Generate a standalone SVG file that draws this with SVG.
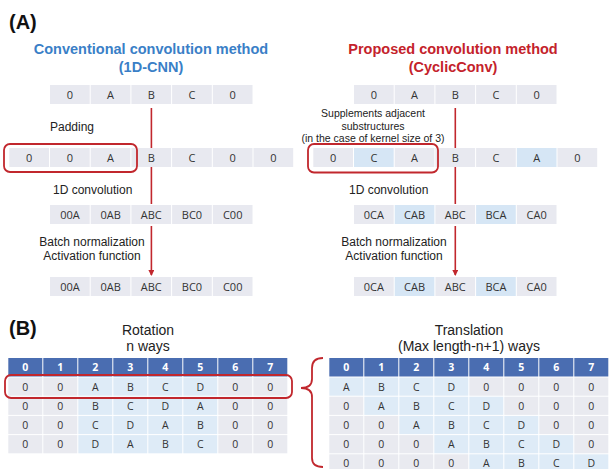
<svg xmlns="http://www.w3.org/2000/svg" width="609" height="469" viewBox="0 0 609 469">
<defs>
<style>
.lbl{font-family:"Liberation Sans",Arial,sans-serif;font-size:12px;fill:#222;}
.sm{font-family:"Liberation Sans",Arial,sans-serif;font-size:10.5px;fill:#222;}
.ttl{font-family:"Liberation Sans",Arial,sans-serif;font-size:14.5px;font-weight:bold;}
.pan{font-family:"Liberation Sans",Arial,sans-serif;font-size:20px;font-weight:bold;fill:#111;}
.hd{font-family:"Liberation Sans",Arial,sans-serif;font-size:14px;fill:#222;}
.c{fill:#e8e9f0;}
.b{fill:#d6e6f5;}
.tc{fill:#e9eaf0;}
.tb{fill:#deebf7;}
.th{fill:#4a6db1;}
.ct{font-family:"Open Sans","Noto Sans",sans-serif;font-size:11px;fill:#333;text-anchor:middle;}
.tt{font-family:"Open Sans","Noto Sans",sans-serif;font-size:10.5px;fill:#333;text-anchor:middle;}
.ht{font-family:"Open Sans","Noto Sans",sans-serif;font-size:10.5px;font-weight:bold;fill:#fff;text-anchor:middle;}
.red{fill:none;stroke:#c1272d;stroke-width:1.8;}
.ln{stroke:#c1272d;stroke-width:1.6;fill:none;}
</style>
<marker id="ah" markerWidth="6" markerHeight="6" refX="5" refY="3" orient="auto" markerUnits="userSpaceOnUse">
<path d="M0,0 L6,3 L0,6 Z" fill="#c1272d"/>
</marker>
</defs>
<rect width="609" height="469" fill="#fff"/>

<text class="pan" x="9" y="29">(A)</text>
<text class="pan" x="9" y="335">(B)</text>

<g id="title-left">
<text class="ttl" x="151" y="54" text-anchor="middle" fill="#3a7fc7">Conventional convolution method</text>
<text class="ttl" x="151" y="72" text-anchor="middle" fill="#3a7fc7">(1D-CNN)</text>
</g>
<g id="title-right">
<text class="ttl" x="453" y="54" text-anchor="middle" fill="#c4222b">Proposed convolution method</text>
<text class="ttl" x="453" y="72" text-anchor="middle" fill="#c4222b">(CyclicConv)</text>
</g>

<g id="connectors">
<line class="ln" x1="151.4" y1="108" x2="151.4" y2="148"/>
<line class="ln" x1="151.4" y1="167" x2="151.4" y2="204"/>
<line class="ln" x1="151.4" y1="226" x2="151.4" y2="275" marker-end="url(#ah)"/>
<line class="ln" x1="455.3" y1="108" x2="455.3" y2="148"/>
<line class="ln" x1="455.3" y1="167" x2="455.3" y2="204"/>
<line class="ln" x1="455.3" y1="226" x2="455.3" y2="275" marker-end="url(#ah)"/>
<path class="red" d="M323,358 Q312,358 312,368 L312,379 Q312,388 301,388 Q312,388 312,397 L312,458 Q312,467 323,467"/>
</g>

<!-- Left side -->
<g id="left-input">
<rect class="c" x="50" y="85" width="39.7" height="19"/>
<rect class="c" x="90.7" y="85" width="39.7" height="19"/>
<rect class="c" x="131.4" y="85" width="39.7" height="19"/>
<rect class="c" x="172.1" y="85" width="39.7" height="19"/>
<rect class="c" x="212.8" y="85" width="39.7" height="19"/>
<text class="ct" x="69.9" y="98.5">0</text>
<text class="ct" x="110.6" y="98.5">A</text>
<text class="ct" x="151.3" y="98.5">B</text>
<text class="ct" x="192" y="98.5">C</text>
<text class="ct" x="232.7" y="98.5">0</text>
</g>
<text class="lbl" x="50" y="131">Padding</text>
<g id="left-padded">
<rect class="c" x="9.3" y="148" width="39.7" height="19"/>
<rect class="c" x="50" y="148" width="39.7" height="19"/>
<rect class="c" x="90.7" y="148" width="39.7" height="19"/>
<rect class="c" x="131.4" y="148" width="39.7" height="19"/>
<rect class="c" x="172.1" y="148" width="39.7" height="19"/>
<rect class="c" x="212.8" y="148" width="39.7" height="19"/>
<rect class="c" x="253.5" y="148" width="39.7" height="19"/>
<text class="ct" x="29.2" y="161.5">0</text>
<text class="ct" x="69.9" y="161.5">0</text>
<text class="ct" x="110.6" y="161.5">A</text>
<text class="ct" x="151.3" y="161.5">B</text>
<text class="ct" x="192" y="161.5">C</text>
<text class="ct" x="232.7" y="161.5">0</text>
<text class="ct" x="273.4" y="161.5">0</text>
<rect class="red" x="4" y="144" width="133" height="28" rx="6"/>
</g>
<text class="lbl" x="53" y="194">1D convolution</text>
<g id="left-conv">
<rect class="c" x="50" y="205" width="39.7" height="19"/>
<rect class="c" x="90.7" y="205" width="39.7" height="19"/>
<rect class="c" x="131.4" y="205" width="39.7" height="19"/>
<rect class="c" x="172.1" y="205" width="39.7" height="19"/>
<rect class="c" x="212.8" y="205" width="39.7" height="19"/>
<text class="ct" x="69.9" y="218.5">00A</text>
<text class="ct" x="110.6" y="218.5">0AB</text>
<text class="ct" x="151.3" y="218.5">ABC</text>
<text class="ct" x="192" y="218.5">BC0</text>
<text class="ct" x="232.7" y="218.5">C00</text>
</g>
<text class="lbl" x="92" y="246" text-anchor="middle">Batch normalization</text>
<text class="lbl" x="92" y="260" text-anchor="middle">Activation function</text>
<g id="left-output">
<rect class="c" x="50" y="277" width="39.7" height="19"/>
<rect class="c" x="90.7" y="277" width="39.7" height="19"/>
<rect class="c" x="131.4" y="277" width="39.7" height="19"/>
<rect class="c" x="172.1" y="277" width="39.7" height="19"/>
<rect class="c" x="212.8" y="277" width="39.7" height="19"/>
<text class="ct" x="69.9" y="290.5">00A</text>
<text class="ct" x="110.6" y="290.5">0AB</text>
<text class="ct" x="151.3" y="290.5">ABC</text>
<text class="ct" x="192" y="290.5">BC0</text>
<text class="ct" x="232.7" y="290.5">C00</text>
</g>

<!-- Right side -->
<g id="right-input">
<rect class="c" x="354" y="85" width="39.7" height="19"/>
<rect class="c" x="394.7" y="85" width="39.7" height="19"/>
<rect class="c" x="435.4" y="85" width="39.7" height="19"/>
<rect class="c" x="476.1" y="85" width="39.7" height="19"/>
<rect class="c" x="516.8" y="85" width="39.7" height="19"/>
<text class="ct" x="373.9" y="98.5">0</text>
<text class="ct" x="414.6" y="98.5">A</text>
<text class="ct" x="455.3" y="98.5">B</text>
<text class="ct" x="496" y="98.5">C</text>
<text class="ct" x="536.7" y="98.5">0</text>
</g>
<text class="sm" x="373" y="117" text-anchor="middle">Supplements adjacent</text>
<text class="sm" x="373" y="130" text-anchor="middle">substructures</text>
<text class="sm" x="373" y="142" text-anchor="middle">(in the case of kernel size of 3)</text>
<g id="right-padded">
<rect class="c" x="313.3" y="148" width="39.7" height="19"/>
<rect class="b" x="354" y="148" width="39.7" height="19"/>
<rect class="c" x="394.7" y="148" width="39.7" height="19"/>
<rect class="c" x="435.4" y="148" width="39.7" height="19"/>
<rect class="c" x="476.1" y="148" width="39.7" height="19"/>
<rect class="b" x="516.8" y="148" width="39.7" height="19"/>
<rect class="c" x="557.5" y="148" width="39.7" height="19"/>
<text class="ct" x="333.2" y="161.5">0</text>
<text class="ct" x="373.9" y="161.5">C</text>
<text class="ct" x="414.6" y="161.5">A</text>
<text class="ct" x="455.3" y="161.5">B</text>
<text class="ct" x="496" y="161.5">C</text>
<text class="ct" x="536.7" y="161.5">A</text>
<text class="ct" x="577.4" y="161.5">0</text>
<rect class="red" x="308" y="144" width="130" height="28.5" rx="6"/>
</g>
<text class="lbl" x="349" y="194">1D convolution</text>
<g id="right-conv">
<rect class="c" x="354" y="205" width="39.7" height="19"/>
<rect class="b" x="394.7" y="205" width="39.7" height="19"/>
<rect class="c" x="435.4" y="205" width="39.7" height="19"/>
<rect class="b" x="476.1" y="205" width="39.7" height="19"/>
<rect class="c" x="516.8" y="205" width="39.7" height="19"/>
<text class="ct" x="373.9" y="218.5">0CA</text>
<text class="ct" x="414.6" y="218.5">CAB</text>
<text class="ct" x="455.3" y="218.5">ABC</text>
<text class="ct" x="496" y="218.5">BCA</text>
<text class="ct" x="536.7" y="218.5">CA0</text>
</g>
<text class="lbl" x="394" y="246" text-anchor="middle">Batch normalization</text>
<text class="lbl" x="394" y="260" text-anchor="middle">Activation function</text>
<g id="right-output">
<rect class="c" x="354" y="277" width="39.7" height="19"/>
<rect class="b" x="394.7" y="277" width="39.7" height="19"/>
<rect class="c" x="435.4" y="277" width="39.7" height="19"/>
<rect class="b" x="476.1" y="277" width="39.7" height="19"/>
<rect class="c" x="516.8" y="277" width="39.7" height="19"/>
<text class="ct" x="373.9" y="290.5">0CA</text>
<text class="ct" x="414.6" y="290.5">CAB</text>
<text class="ct" x="455.3" y="290.5">ABC</text>
<text class="ct" x="496" y="290.5">BCA</text>
<text class="ct" x="536.7" y="290.5">CA0</text>
</g>

<!-- Part B -->
<text class="hd" x="148" y="335" text-anchor="middle">Rotation</text>
<text class="hd" x="148" y="351" text-anchor="middle">n ways</text>
<text class="hd" x="469" y="335" text-anchor="middle">Translation</text>
<text class="hd" x="469" y="351" text-anchor="middle">(Max length-n+1) ways</text>

<g id="rotation-table">
<g>
<rect class="th" x="8.3" y="358" width="34" height="18.5"/>
<rect class="th" x="43.3" y="358" width="34" height="18.5"/>
<rect class="th" x="78.3" y="358" width="34" height="18.5"/>
<rect class="th" x="113.3" y="358" width="34" height="18.5"/>
<rect class="th" x="148.3" y="358" width="34" height="18.5"/>
<rect class="th" x="183.3" y="358" width="34" height="18.5"/>
<rect class="th" x="218.3" y="358" width="34" height="18.5"/>
<rect class="th" x="253.3" y="358" width="34" height="18.5"/>
<text class="ht" x="25.3" y="371">0</text>
<text class="ht" x="60.3" y="371">1</text>
<text class="ht" x="95.3" y="371">2</text>
<text class="ht" x="130.3" y="371">3</text>
<text class="ht" x="165.3" y="371">4</text>
<text class="ht" x="200.3" y="371">5</text>
<text class="ht" x="235.3" y="371">6</text>
<text class="ht" x="270.3" y="371">7</text>
</g>
<g>
<rect class="tc" x="8.3" y="377.5" width="34" height="18.2"/>
<rect class="tc" x="43.3" y="377.5" width="34" height="18.2"/>
<rect class="tb" x="78.3" y="377.5" width="34" height="18.2"/>
<rect class="tb" x="113.3" y="377.5" width="34" height="18.2"/>
<rect class="tb" x="148.3" y="377.5" width="34" height="18.2"/>
<rect class="tb" x="183.3" y="377.5" width="34" height="18.2"/>
<rect class="tc" x="218.3" y="377.5" width="34" height="18.2"/>
<rect class="tc" x="253.3" y="377.5" width="34" height="18.2"/>
<text class="tt" x="25.3" y="390.5">0</text>
<text class="tt" x="60.3" y="390.5">0</text>
<text class="tt" x="95.3" y="390.5">A</text>
<text class="tt" x="130.3" y="390.5">B</text>
<text class="tt" x="165.3" y="390.5">C</text>
<text class="tt" x="200.3" y="390.5">D</text>
<text class="tt" x="235.3" y="390.5">0</text>
<text class="tt" x="270.3" y="390.5">0</text>
</g>
<g>
<rect class="tc" x="8.3" y="396.7" width="34" height="18.2"/>
<rect class="tc" x="43.3" y="396.7" width="34" height="18.2"/>
<rect class="tb" x="78.3" y="396.7" width="34" height="18.2"/>
<rect class="tb" x="113.3" y="396.7" width="34" height="18.2"/>
<rect class="tb" x="148.3" y="396.7" width="34" height="18.2"/>
<rect class="tb" x="183.3" y="396.7" width="34" height="18.2"/>
<rect class="tc" x="218.3" y="396.7" width="34" height="18.2"/>
<rect class="tc" x="253.3" y="396.7" width="34" height="18.2"/>
<text class="tt" x="25.3" y="409.7">0</text>
<text class="tt" x="60.3" y="409.7">0</text>
<text class="tt" x="95.3" y="409.7">B</text>
<text class="tt" x="130.3" y="409.7">C</text>
<text class="tt" x="165.3" y="409.7">D</text>
<text class="tt" x="200.3" y="409.7">A</text>
<text class="tt" x="235.3" y="409.7">0</text>
<text class="tt" x="270.3" y="409.7">0</text>
</g>
<g>
<rect class="tc" x="8.3" y="415.9" width="34" height="18.2"/>
<rect class="tc" x="43.3" y="415.9" width="34" height="18.2"/>
<rect class="tb" x="78.3" y="415.9" width="34" height="18.2"/>
<rect class="tb" x="113.3" y="415.9" width="34" height="18.2"/>
<rect class="tb" x="148.3" y="415.9" width="34" height="18.2"/>
<rect class="tb" x="183.3" y="415.9" width="34" height="18.2"/>
<rect class="tc" x="218.3" y="415.9" width="34" height="18.2"/>
<rect class="tc" x="253.3" y="415.9" width="34" height="18.2"/>
<text class="tt" x="25.3" y="428.9">0</text>
<text class="tt" x="60.3" y="428.9">0</text>
<text class="tt" x="95.3" y="428.9">C</text>
<text class="tt" x="130.3" y="428.9">D</text>
<text class="tt" x="165.3" y="428.9">A</text>
<text class="tt" x="200.3" y="428.9">B</text>
<text class="tt" x="235.3" y="428.9">0</text>
<text class="tt" x="270.3" y="428.9">0</text>
</g>
<g>
<rect class="tc" x="8.3" y="435.1" width="34" height="18.2"/>
<rect class="tc" x="43.3" y="435.1" width="34" height="18.2"/>
<rect class="tb" x="78.3" y="435.1" width="34" height="18.2"/>
<rect class="tb" x="113.3" y="435.1" width="34" height="18.2"/>
<rect class="tb" x="148.3" y="435.1" width="34" height="18.2"/>
<rect class="tb" x="183.3" y="435.1" width="34" height="18.2"/>
<rect class="tc" x="218.3" y="435.1" width="34" height="18.2"/>
<rect class="tc" x="253.3" y="435.1" width="34" height="18.2"/>
<text class="tt" x="25.3" y="448.1">0</text>
<text class="tt" x="60.3" y="448.1">0</text>
<text class="tt" x="95.3" y="448.1">D</text>
<text class="tt" x="130.3" y="448.1">A</text>
<text class="tt" x="165.3" y="448.1">B</text>
<text class="tt" x="200.3" y="448.1">C</text>
<text class="tt" x="235.3" y="448.1">0</text>
<text class="tt" x="270.3" y="448.1">0</text>
</g>
<rect class="red" x="5" y="375" width="287" height="23" rx="6"/>
</g>

<g id="translation-table">
<g>
<rect class="th" x="329.3" y="358" width="34" height="18.5"/>
<rect class="th" x="364.3" y="358" width="34" height="18.5"/>
<rect class="th" x="399.3" y="358" width="34" height="18.5"/>
<rect class="th" x="434.3" y="358" width="34" height="18.5"/>
<rect class="th" x="469.3" y="358" width="34" height="18.5"/>
<rect class="th" x="504.3" y="358" width="34" height="18.5"/>
<rect class="th" x="539.3" y="358" width="34" height="18.5"/>
<rect class="th" x="574.3" y="358" width="34" height="18.5"/>
<text class="ht" x="346.3" y="371">0</text>
<text class="ht" x="381.3" y="371">1</text>
<text class="ht" x="416.3" y="371">2</text>
<text class="ht" x="451.3" y="371">3</text>
<text class="ht" x="486.3" y="371">4</text>
<text class="ht" x="521.3" y="371">5</text>
<text class="ht" x="556.3" y="371">6</text>
<text class="ht" x="591.3" y="371">7</text>
</g>
<g>
<rect class="tb" x="329.3" y="377.5" width="34" height="18.2"/>
<rect class="tb" x="364.3" y="377.5" width="34" height="18.2"/>
<rect class="tb" x="399.3" y="377.5" width="34" height="18.2"/>
<rect class="tb" x="434.3" y="377.5" width="34" height="18.2"/>
<rect class="tc" x="469.3" y="377.5" width="34" height="18.2"/>
<rect class="tc" x="504.3" y="377.5" width="34" height="18.2"/>
<rect class="tc" x="539.3" y="377.5" width="34" height="18.2"/>
<rect class="tc" x="574.3" y="377.5" width="34" height="18.2"/>
<text class="tt" x="346.3" y="390.5">A</text>
<text class="tt" x="381.3" y="390.5">B</text>
<text class="tt" x="416.3" y="390.5">C</text>
<text class="tt" x="451.3" y="390.5">D</text>
<text class="tt" x="486.3" y="390.5">0</text>
<text class="tt" x="521.3" y="390.5">0</text>
<text class="tt" x="556.3" y="390.5">0</text>
<text class="tt" x="591.3" y="390.5">0</text>
</g>
<g>
<rect class="tc" x="329.3" y="396.7" width="34" height="18.2"/>
<rect class="tb" x="364.3" y="396.7" width="34" height="18.2"/>
<rect class="tb" x="399.3" y="396.7" width="34" height="18.2"/>
<rect class="tb" x="434.3" y="396.7" width="34" height="18.2"/>
<rect class="tb" x="469.3" y="396.7" width="34" height="18.2"/>
<rect class="tc" x="504.3" y="396.7" width="34" height="18.2"/>
<rect class="tc" x="539.3" y="396.7" width="34" height="18.2"/>
<rect class="tc" x="574.3" y="396.7" width="34" height="18.2"/>
<text class="tt" x="346.3" y="409.7">0</text>
<text class="tt" x="381.3" y="409.7">A</text>
<text class="tt" x="416.3" y="409.7">B</text>
<text class="tt" x="451.3" y="409.7">C</text>
<text class="tt" x="486.3" y="409.7">D</text>
<text class="tt" x="521.3" y="409.7">0</text>
<text class="tt" x="556.3" y="409.7">0</text>
<text class="tt" x="591.3" y="409.7">0</text>
</g>
<g>
<rect class="tc" x="329.3" y="415.9" width="34" height="18.2"/>
<rect class="tc" x="364.3" y="415.9" width="34" height="18.2"/>
<rect class="tb" x="399.3" y="415.9" width="34" height="18.2"/>
<rect class="tb" x="434.3" y="415.9" width="34" height="18.2"/>
<rect class="tb" x="469.3" y="415.9" width="34" height="18.2"/>
<rect class="tb" x="504.3" y="415.9" width="34" height="18.2"/>
<rect class="tc" x="539.3" y="415.9" width="34" height="18.2"/>
<rect class="tc" x="574.3" y="415.9" width="34" height="18.2"/>
<text class="tt" x="346.3" y="428.9">0</text>
<text class="tt" x="381.3" y="428.9">0</text>
<text class="tt" x="416.3" y="428.9">A</text>
<text class="tt" x="451.3" y="428.9">B</text>
<text class="tt" x="486.3" y="428.9">C</text>
<text class="tt" x="521.3" y="428.9">D</text>
<text class="tt" x="556.3" y="428.9">0</text>
<text class="tt" x="591.3" y="428.9">0</text>
</g>
<g>
<rect class="tc" x="329.3" y="435.1" width="34" height="18.2"/>
<rect class="tc" x="364.3" y="435.1" width="34" height="18.2"/>
<rect class="tc" x="399.3" y="435.1" width="34" height="18.2"/>
<rect class="tb" x="434.3" y="435.1" width="34" height="18.2"/>
<rect class="tb" x="469.3" y="435.1" width="34" height="18.2"/>
<rect class="tb" x="504.3" y="435.1" width="34" height="18.2"/>
<rect class="tb" x="539.3" y="435.1" width="34" height="18.2"/>
<rect class="tc" x="574.3" y="435.1" width="34" height="18.2"/>
<text class="tt" x="346.3" y="448.1">0</text>
<text class="tt" x="381.3" y="448.1">0</text>
<text class="tt" x="416.3" y="448.1">0</text>
<text class="tt" x="451.3" y="448.1">A</text>
<text class="tt" x="486.3" y="448.1">B</text>
<text class="tt" x="521.3" y="448.1">C</text>
<text class="tt" x="556.3" y="448.1">D</text>
<text class="tt" x="591.3" y="448.1">0</text>
</g>
<g>
<rect class="tc" x="329.3" y="454.3" width="34" height="18.2"/>
<rect class="tc" x="364.3" y="454.3" width="34" height="18.2"/>
<rect class="tc" x="399.3" y="454.3" width="34" height="18.2"/>
<rect class="tc" x="434.3" y="454.3" width="34" height="18.2"/>
<rect class="tb" x="469.3" y="454.3" width="34" height="18.2"/>
<rect class="tb" x="504.3" y="454.3" width="34" height="18.2"/>
<rect class="tb" x="539.3" y="454.3" width="34" height="18.2"/>
<rect class="tb" x="574.3" y="454.3" width="34" height="18.2"/>
<text class="tt" x="346.3" y="467.3">0</text>
<text class="tt" x="381.3" y="467.3">0</text>
<text class="tt" x="416.3" y="467.3">0</text>
<text class="tt" x="451.3" y="467.3">0</text>
<text class="tt" x="486.3" y="467.3">A</text>
<text class="tt" x="521.3" y="467.3">B</text>
<text class="tt" x="556.3" y="467.3">C</text>
<text class="tt" x="591.3" y="467.3">D</text>
</g>
</g>
</svg>
